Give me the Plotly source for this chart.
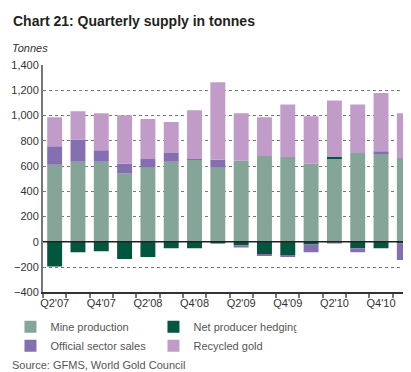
import plotly.graph_objects as go

quarters = ["Q2'07", "Q3'07", "Q4'07", "Q1'08", "Q2'08", "Q3'08", "Q4'08", "Q1'09",
            "Q2'09", "Q3'09", "Q4'09", "Q1'10", "Q2'10", "Q3'10", "Q4'10", "Q1'11"]
tick_labels = ["Q2'07", "", "Q4'07", "", "Q2'08", "", "Q4'08", "",
               "Q2'09", "", "Q4'09", "", "Q2'10", "", "Q4'10", ""]

mine_production = [610, 633, 633, 541, 587, 633, 649, 587, 641, 679, 672, 618, 656, 703, 703, 664]
net_hedging = [-195, -82, -74, -136, -120, -51, -51, -13, -28, -97, -105, -21, 16, -51, -51, -13]
official_sales = [146, 177, 93, 77, 69, 70, 7, 62, -16, -16, -15, -61, -13, -31, 15, -131]
recycled_gold = [231, 223, 292, 385, 316, 246, 385, 615, 377, 308, 415, 377, 446, 384, 461, 354]

series = [
    ("Mine production", mine_production, "#84A598"),
    ("Net producer hedging", net_hedging, "#00563F"),
    ("Official sector sales", official_sales, "#846FB0"),
    ("Recycled gold", recycled_gold, "#C19CC9"),
]

W, H = 411, 372
ML, MR, MT, MB = 35, 3, 57, 81
PW, PH = W - ML - MR, H - MT - MB


def px_x(px):
    return (px - ML) / PW


def px_y(py):
    return (H - MB - py) / PH


fig = go.Figure()
for name, vals, color in series:
    fig.add_trace(go.Bar(x=quarters, y=vals, name=name, marker=dict(color=color, line=dict(width=0))))

font_family = "Liberation Sans, Arial, sans-serif"

fig.update_layout(
    width=W, height=H,
    barmode="relative",
    bargap=0.36,
    plot_bgcolor="white", paper_bgcolor="white",
    margin=dict(l=ML, r=MR, t=MT, b=MB),
    font=dict(family=font_family, size=11, color="#333333"),
    showlegend=True,
    legend=dict(
        orientation="h", xref="container", yref="container",
        x=0.006, y=0.182, xanchor="left", yanchor="top",
        entrywidth=98, font=dict(size=11, color="#555555"),
        traceorder="normal", itemwidth=30, tracegroupgap=0,
        bgcolor="rgba(0,0,0,0)",
    ),
    xaxis=dict(
        type="category", tickmode="array", tickvals=quarters, ticktext=tick_labels,
        tickson="boundaries", ticks="outside", ticklen=4, tickcolor="#777777", tickwidth=1.5,
        tickangle=0,
        showline=True, linecolor="#333333", linewidth=1.5, showgrid=False,
        tickfont=dict(size=11, color="#333333"),
    ),
    yaxis=dict(
        range=[-400, 1400], dtick=200, tickformat=",d",
        showgrid=True, gridcolor="#777777", griddash="dot", gridwidth=1,
        zeroline=False, showline=True, linecolor="#777777", linewidth=2,
        ticks="", tickfont=dict(size=11, color="#333333"),
    ),
    shapes=[dict(type="line", xref="paper", yref="y", x0=0, x1=1, y0=0, y1=0,
                 line=dict(color="#222222", width=1.5), layer="above")],
    annotations=[
        dict(text="<b>Chart 21: Quarterly supply in tonnes</b>", xref="paper", yref="paper",
             x=px_x(3), y=px_y(12), xanchor="left", yanchor="middle", showarrow=False,
             font=dict(size=14, color="#231F20")),
        dict(text="<i>Tonnes</i>", xref="paper", yref="paper",
             x=px_x(2), y=px_y(40), xanchor="left", yanchor="middle", showarrow=False,
             font=dict(size=11, color="#333333")),
        dict(text="Source: GFMS, World Gold Council", xref="paper", yref="paper",
             x=px_x(2), y=px_y(366), xanchor="left", yanchor="middle", showarrow=False,
             font=dict(size=11, color="#555555")),
    ],
)

fig.write_html("out.html")
